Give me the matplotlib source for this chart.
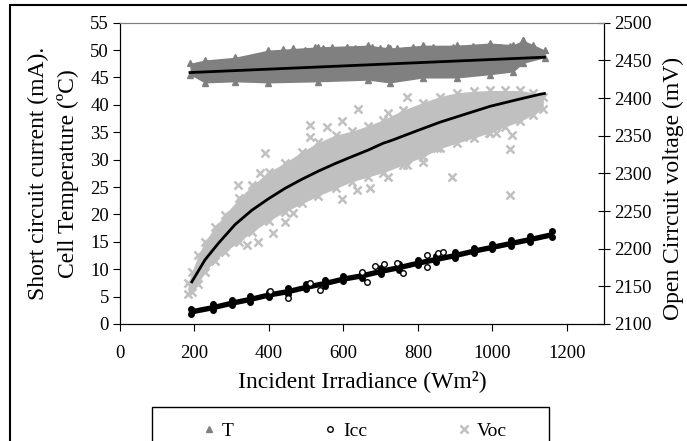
import matplotlib
matplotlib.use("Agg")
import matplotlib.pyplot as plt
from matplotlib.patches import Rectangle

plt.rcParams["font.family"] = ["Liberation Serif", "DejaVu Serif"]

# Cell temperature band (degC)
t_x = [188, 228, 309, 398, 532, 666, 725, 814, 905, 994, 1056, 1083, 1142]
t_top = [47.6, 48.2, 48.7, 50.0, 50.6, 50.9, 50.4, 50.9, 50.9, 51.3, 51.0, 51.8, 50.0]
t_bot = [45.5, 44.0, 44.2, 44.0, 44.2, 44.5, 44.0, 44.9, 44.9, 45.5, 46.0, 47.6, 48.6]
t_peak_x = [438, 465, 497, 524, 545, 570, 586, 610, 631, 653, 677, 698, 720,
            744, 766, 787, 811, 841, 868, 895, 919, 948, 975, 994, 1021, 1048, 1083, 1110]
t_peak_y = [50.2, 50.4, 50.0, 50.6, 50.3, 50.5, 50.1, 50.6, 50.4, 50.2, 50.6, 50.3, 50.5,
            50.4, 50.1, 50.6, 50.3, 50.5, 50.2, 50.6, 50.4, 50.7, 50.3, 50.6, 50.5, 50.8, 51.8, 50.9]
t_trend_x = [188, 1140]
t_trend_y = [45.9, 48.7]

# Short circuit current band (mA)
icc_x = [190, 250, 300, 350, 400, 450, 500, 550, 600, 650,
         700, 750, 800, 850, 900, 950, 1000, 1050, 1100, 1160]
icc_lo = [1.8, 2.6, 3.4, 4.1, 4.9, 5.5, 6.3, 7.0, 7.8, 8.4,
          9.2, 9.9, 10.7, 11.4, 12.1, 12.9, 13.6, 14.3, 15.0, 15.9]
icc_hi = [2.8, 3.6, 4.4, 5.1, 5.9, 6.5, 7.3, 8.0, 8.8, 9.4,
          10.2, 10.9, 11.7, 12.4, 13.1, 13.9, 14.6, 15.3, 16.0, 16.9]
icc_out_x = [403, 451, 510, 537, 650, 664, 685, 710, 744, 760, 825, 825, 855, 867]
icc_out_y = [6.0, 4.7, 7.5, 6.2, 9.5, 7.7, 10.6, 11.0, 11.1, 9.3, 12.6, 10.4, 13.0, 13.1]

# Open circuit voltage band (mV)
voc_x = [183, 193, 210, 228, 255, 282, 320, 355, 400, 443, 490, 532, 580,
         623, 665, 707, 760, 814, 860, 905, 950, 994, 1035, 1075, 1110, 1137]
voc_top = [2154, 2169, 2191, 2209, 2229, 2245, 2267, 2284, 2302, 2314, 2329, 2341, 2351,
           2356, 2363, 2371, 2384, 2394, 2402, 2407, 2409, 2410, 2410, 2410, 2407, 2402]
voc_bot = [2140, 2142, 2153, 2169, 2184, 2196, 2209, 2222, 2237, 2249, 2260, 2270, 2280,
           2289, 2295, 2301, 2311, 2322, 2333, 2340, 2347, 2354, 2362, 2369, 2378, 2386]
voc_out_x = [639, 510, 510, 596, 390, 376, 318, 411, 371, 341, 443, 466, 596, 637, 672,
             720, 892, 1048, 1053, 1048, 990, 1010, 852, 814, 771, 922, 720, 771, 556]
voc_out_y = [2386, 2364, 2348, 2370, 2327, 2301, 2285, 2221, 2209, 2205, 2235, 2248, 2266, 2278, 2280,
             2295, 2295, 2332, 2351, 2271, 2354, 2354, 2333, 2315, 2311, 2348, 2380, 2401, 2362]
voc_trend_x = [193, 228, 264, 309, 354, 398, 443, 488, 533, 578, 622,
               667, 707, 731, 800, 860, 930, 994, 1060, 1128, 1140]
voc_trend_y = [2156, 2185, 2207, 2232, 2251, 2266, 2280, 2292, 2303, 2313, 2322,
               2331, 2340, 2344, 2357, 2368, 2379, 2389, 2397, 2405, 2406]

t_col = "#808080"
voc_col = "#c0c0c0"

fig = plt.figure(figsize=(6.87, 4.41), dpi=100)
ax = fig.add_axes([120 / 687, 1 - 324 / 441, 484 / 687, 301.3 / 441])
ax2 = ax.twinx()

# T
ax.fill_between(t_x, t_bot, t_top, color=t_col, lw=0)
ax.plot(t_x, t_top, "^", color=t_col, ms=4, ls="none")
ax.plot(t_x, t_bot, "^", color=t_col, ms=4, ls="none")
h_t, = ax.plot(t_peak_x, t_peak_y, "^", color=t_col, ms=4, ls="none", label="T")
ax.plot(t_trend_x, t_trend_y, color="black", lw=2)

# Icc
ax.fill_between(icc_x, icc_lo, icc_hi, color="black", lw=0)
ax.plot(icc_x, icc_lo, "o", color="black", ms=4, ls="none")
ax.plot(icc_x, icc_hi, "o", color="black", ms=4, ls="none")
h_i, = ax.plot(icc_out_x, icc_out_y, "o", mfc="white", mec="black", ms=4, mew=1,
               ls="none", label="Icc")

# Voc
ax2.fill_between(voc_x, voc_bot, voc_top, color=voc_col, lw=0)
ax2.plot(voc_x, voc_top, "x", color=voc_col, ms=6, mew=1.8, ls="none")
ax2.plot(voc_x, voc_bot, "x", color=voc_col, ms=6, mew=1.8, ls="none")
h_v, = ax2.plot(voc_out_x, voc_out_y, "x", color=voc_col, ms=6, mew=1.8,
                ls="none", label="Voc")
ax2.plot(voc_trend_x, voc_trend_y, color="black", lw=2)

ax.set_xlim(0, 1300)
ax.set_ylim(0, 55)
ax2.set_ylim(2100, 2500)
ax.set_xticks(range(0, 1201, 200))
ax.set_yticks(range(0, 56, 5))
ax2.set_yticks(range(2100, 2501, 50))

fs = 13.5
ax.tick_params(axis="x", direction="out", length=5, labelsize=fs, pad=10)
ax.tick_params(axis="y", direction="out", length=5, labelsize=fs, pad=3)
ax2.tick_params(axis="y", direction="inout", length=9, labelsize=fs, pad=3)

for a in (ax, ax2):
    a.spines["top"].set_color("#808080")

ax.set_xlabel("Incident Irradiance (Wm²)", fontsize=17, labelpad=6)
ax.set_ylabel("Short circuit current (mA).\nCell Temperature (ºC)", fontsize=17,
              linespacing=1.45)
ax.yaxis.set_label_coords(-0.085, 0.5)
ax2.set_ylabel("Open Cirrcuit voltage (mV)", fontsize=17)
ax2.yaxis.set_label_coords(1.122, 0.45)

fig.legend(handles=[h_t, h_i, h_v], loc="center",
           bbox_to_anchor=(355 / 687, 1 - 431 / 441), ncol=3, fontsize=14,
           frameon=False, handlelength=0.6, handletextpad=0.35, columnspacing=4.7)
fig.patches.append(Rectangle((151.7 / 687, -0.1), 397 / 687, 0.1 + 34 / 441,
                             transform=fig.transFigure, fill=False,
                             edgecolor="black", lw=1))

# outer chart frame
fig.patches.append(Rectangle((10 / 687, -0.1), 1.2, 1.1 - 5 / 441,
                             transform=fig.transFigure, fill=False,
                             edgecolor="black", lw=1.5))

fig.savefig("out.png", dpi=100)
